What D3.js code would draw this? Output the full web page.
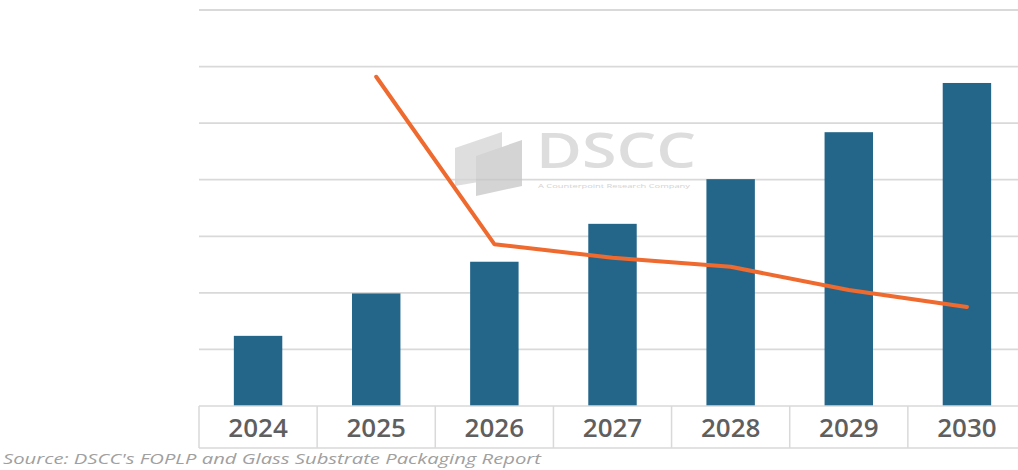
<!DOCTYPE html>
<html>
<head>
<meta charset="utf-8">
<script src="https://cdn.jsdelivr.net/npm/d3@7"></script>
<style>
    html, body { margin: 0; padding: 0; background: #fff; overflow: hidden; }
</style>
</head>
<body>
<div id="chart"></div>
<script>
"use strict";

// Data (units = one gridline step)
const years = ["2024", "2025", "2026", "2027", "2028", "2029", "2030"];
const barValues = [1.24, 1.99, 2.55, 3.22, 4.01, 4.84, 5.71];
const lineYears = ["2025", "2026", "2027", "2028", "2029", "2030"];
const lineValues = [5.82, 2.86, 2.62, 2.46, 2.05, 1.75];
const gridTicks = [1, 2, 3, 4, 5, 6, 7];
const sourceText = "Source: DSCC's FOPLP and Glass Substrate Packaging Report";

const graphInfo = {
    width: 1018,
    height: 470,
    plotLeft: 199,
    plotRight: 1026,
    plotTop: 10,
    baseline: 406,
    axisBottom: 448,
    barColor: "#24668a",
    lineColor: "#ef6a2e",
    gridColor: "#d9d9d9"
};

const svg = d3.select("#chart").append("svg")
    .attr("width", graphInfo.width)
    .attr("height", graphInfo.height)
    .attr("viewBox", [0, 0, graphInfo.width, graphInfo.height]);

// Cells of the category axis
const xCell = d3.scaleBand()
    .domain(years)
    .range([graphInfo.plotLeft, graphInfo.plotRight]);

// Bars sit in the middle of each cell
const xBar = d3.scaleBand()
    .domain(years)
    .range([graphInfo.plotLeft, graphInfo.plotRight])
    .paddingInner(0.59)
    .paddingOuter(0.295);

const yScale = d3.scaleLinear()
    .domain([0, 7])
    .range([graphInfo.baseline, graphInfo.plotTop]);

// Horizontal gridlines
svg.append("g")
    .attr("stroke", graphInfo.gridColor)
    .attr("stroke-width", 1.8)
    .selectAll("line")
    .data(gridTicks)
    .join("line")
    .attr("x1", graphInfo.plotLeft)
    .attr("x2", graphInfo.width)
    .attr("y1", d => yScale(d))
    .attr("y2", d => yScale(d));

// Watermark logo
const logo = svg.append("g").attr("opacity", 0.75);
logo.append("path")
    .attr("d", "M455,148 L502,132 L502,178 L455,186 Z")
    .attr("fill", "#d4d4d4");
logo.append("path")
    .attr("d", "M476,156 L522,140 L522,186 L476,196 Z")
    .attr("fill", "#c6c6c6");
logo.append("text")
    .attr("x", 536)
    .attr("y", 168)
    .attr("font-family", "'Open Sans', sans-serif")
    .attr("font-weight", 600)
    .attr("font-size", 48)
    .attr("textLength", 160)
    .attr("lengthAdjust", "spacingAndGlyphs")
    .attr("fill", "#d2d2d2")
    .text("DSCC");
logo.append("text")
    .attr("x", 538)
    .attr("y", 188)
    .attr("font-family", "'Open Sans', sans-serif")
    .attr("font-size", 6)
    .attr("textLength", 152)
    .attr("lengthAdjust", "spacingAndGlyphs")
    .attr("fill", "#c4c4c4")
    .text("A Counterpoint Research Company");

// Bars
svg.append("g")
    .attr("fill", graphInfo.barColor)
    .selectAll("rect")
    .data(years)
    .join("rect")
    .attr("x", d => xBar(d))
    .attr("width", xBar.bandwidth())
    .attr("y", (d, i) => yScale(barValues[i]))
    .attr("height", (d, i) => yScale(0) - yScale(barValues[i]));

// Orange line
const line = d3.line()
    .x((d, i) => xCell(lineYears[i]) + xCell.bandwidth() / 2)
    .y(d => yScale(d));

svg.append("path")
    .datum(lineValues)
    .attr("fill", "none")
    .attr("stroke", graphInfo.lineColor)
    .attr("stroke-width", 4)
    .attr("stroke-linejoin", "round")
    .attr("stroke-linecap", "round")
    .attr("d", line);

// Category axis drawn as a row of boxed cells
const axis = svg.append("g")
    .attr("stroke", graphInfo.gridColor)
    .attr("stroke-width", 1.5);
axis.selectAll("line.h")
    .data([graphInfo.baseline, graphInfo.axisBottom])
    .join("line")
    .attr("class", "h")
    .attr("x1", graphInfo.plotLeft)
    .attr("x2", graphInfo.width)
    .attr("y1", d => d)
    .attr("y2", d => d);
axis.selectAll("line.v")
    .data(years)
    .join("line")
    .attr("class", "v")
    .attr("x1", d => xCell(d))
    .attr("x2", d => xCell(d))
    .attr("y1", graphInfo.baseline)
    .attr("y2", graphInfo.axisBottom);

svg.append("g")
    .attr("font-family", "'Open Sans', sans-serif")
    .attr("font-size", 26)
    .attr("font-weight", 600)
    .attr("fill", "#5f5f5f")
    .attr("text-anchor", "middle")
    .selectAll("text")
    .data(years)
    .join("text")
    .attr("x", d => xCell(d) + xCell.bandwidth() / 2)
    .attr("y", 437)
    .text(d => d);

// Source note
svg.append("text")
    .attr("x", 3)
    .attr("y", 464)
    .attr("font-family", "'Open Sans', sans-serif")
    .attr("font-style", "italic")
    .attr("font-size", 15)
    .attr("textLength", 538)
    .attr("lengthAdjust", "spacingAndGlyphs")
    .attr("fill", "#a0a0a0")
    .text(sourceText);
</script>
</body>
</html>
